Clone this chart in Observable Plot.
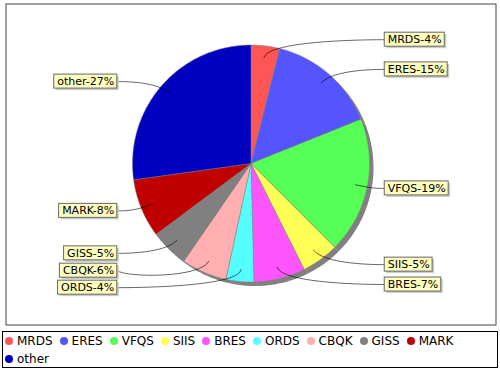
<!DOCTYPE html>
<html><head><meta charset="utf-8">
<script src="https://cdn.jsdelivr.net/npm/d3@7"></script>
<script src="https://cdn.jsdelivr.net/npm/@observablehq/plot@0.6"></script>
<style>
body{margin:0;background:#fff;font-family:"DejaVu Sans",sans-serif;}
#chart svg{display:block}
.legend{margin:2px 0 0 2px;width:492px;height:35px;border:1px solid #000;padding:0 0 0 2px;
  display:flex;flex-wrap:wrap;align-content:flex-start;font:12px "DejaVu Sans",sans-serif;line-height:18px;color:#000}
.legend .item{display:inline-flex;align-items:center;height:18px;margin-right:7px;white-space:nowrap}
.legend .dot{width:8px;height:8px;border-radius:50%;margin-right:4px;display:inline-block}
</style></head><body><div id="chart"></div><script>
// ---- data ----
const categories = ["MRDS","ERES","VFQS","SIIS","BRES","ORDS","CBQK","GISS","MARK","other"];
const shares = [3.9, 15.0, 18.6, 5.1, 7.0, 3.8, 6.2, 5.2, 8.0, 27.2];
const colors = ["#FF5555","#5555FF","#55FF55","#FFFF55","#FF55FF","#55FFFF","#FFAFAF","#808080","#C00000","#0000C0"];

// ---- layout ----
const W = 500, H = 329;
const cx = 250.5, cy = 163, R = 118.5;
const linkR = R / 0.95, linkDepth = 0.9, gap = 9;
const boxH = 14, padX = 3, minGap = 17;

const total = d3.sum(shares);
let acc = 0;
const slices = categories.map((name, i) => {
  const a0 = acc / total * 2 * Math.PI; acc += shares[i];
  const a1 = acc / total * 2 * Math.PI;
  return {name, value: shares[i], a0, a1, mid: (a0 + a1) / 2, pct: Math.round(shares[i] / total * 100)};
});
const pt = (a, r) => [cx + r * Math.sin(a), cy - r * Math.cos(a)];

const polyPts = slices.flatMap(s => {
  const n = Math.max(2, Math.ceil((s.a1 - s.a0) / (Math.PI / 180)));
  const arr = [{name: s.name, p: [cx, cy]}];
  for (let k = 0; k <= n; k++) arr.push({name: s.name, p: pt(s.a0 + (s.a1 - s.a0) * k / n, R)});
  arr.push({name: s.name, p: [cx, cy]});
  return arr;
});

const ctx = document.createElement("canvas").getContext("2d");
ctx.font = "11px 'DejaVu Sans'";
const labels = slices.map(s => {
  const right = Math.sin(s.mid) >= 0;
  const text = `${s.name}-${s.pct}%`;
  const w = ctx.measureText(text).width + 2 * padX;
  return {...s, right, text, w, y: cy - linkR * Math.cos(s.mid)};
});
for (const side of [true, false]) {
  const L = labels.filter(d => d.right === side).sort((a, b) => a.y - b.y);
  for (let i = L.length - 2; i >= 0; i--) L[i].y = Math.min(L[i].y, L[i + 1].y - minGap);
  for (let i = 1; i < L.length; i++) L[i].y = Math.max(L[i].y, L[i - 1].y + minGap);
}
labels.forEach(d => {
  d.x1 = d.right ? cx + linkR + gap : cx - linkR - gap - d.w;
  d.x2 = d.x1 + d.w;
  d.y1 = d.y - boxH / 2; d.y2 = d.y + boxH / 2;
});
const linkPts = labels.flatMap(d => {
  const elbow = pt(d.mid, linkR);
  const target = [d.right ? d.x1 : d.x2, d.y];
  const anchor = [d.right ? cx + linkR : cx - linkR, elbow[1]];
  const link = pt(d.mid, R * linkDepth);
  return [target, anchor, elbow, link].map(p => ({name: d.name, p}));
});

// custom cubic Bezier curve: 4 points -> one cubic segment
function bezier(context) {
  let pts = [];
  return {
    areaStart() {}, areaEnd() {},
    lineStart() { pts = []; },
    lineEnd() {
      if (pts.length === 4) {
        context.moveTo(pts[0][0], pts[0][1]);
        context.bezierCurveTo(pts[1][0], pts[1][1], pts[2][0], pts[2][1], pts[3][0], pts[3][1]);
      }
    },
    point(x, y) { pts.push([x, y]); }
  };
}

const chart = Plot.plot({
  width: W, height: H, margin: 0,
  x: {domain: [0, W], range: [0, W], axis: null},
  y: {domain: [0, H], range: [0, H], axis: null},
  color: {domain: categories, range: colors},
  style: {background: "#fff"},
  marks: [
    Plot.frame({stroke: "#444", insetLeft: 5.5, insetTop: 3.5, insetRight: 4.5, insetBottom: 4.5}),
    Plot.line(polyPts, {x: d => d.p[0], y: d => d.p[1], z: "name", fill: "#808080", stroke: "none", dx: 4, dy: 4}),
    Plot.line(polyPts, {x: d => d.p[0], y: d => d.p[1], z: "name", fill: "name", stroke: "#808080", strokeWidth: 0.5}),
    Plot.line(linkPts, {x: d => d.p[0], y: d => d.p[1], z: "name", stroke: "#000", strokeWidth: 0.6, curve: bezier}),
    Plot.rect(labels, {x1: "x1", x2: "x2", y1: "y1", y2: "y2", fill: "#cbcbcb", dx: 2, dy: 2}),
    Plot.rect(labels, {x1: "x1", x2: "x2", y1: "y1", y2: "y2", fill: "#FFFFC0", stroke: "#666", strokeWidth: 1}),
    Plot.text(labels, {x: d => d.x1 + padX, y: "y", text: "text", textAnchor: "start", fontSize: 11, fontFamily: "DejaVu Sans", fill: "#000"})
  ]
});
document.getElementById("chart").appendChild(chart);

// legend from the plot's color scale
const cs = chart.scale("color");
const legend = document.createElement("div");
legend.className = "legend";
cs.domain.forEach((name, i) => {
  const item = document.createElement("span"); item.className = "item";
  const dot = document.createElement("span"); dot.className = "dot"; dot.style.background = cs.range[i];
  item.appendChild(dot); item.appendChild(document.createTextNode(name));
  legend.appendChild(item);
});
document.body.appendChild(legend);
</script></body></html>
